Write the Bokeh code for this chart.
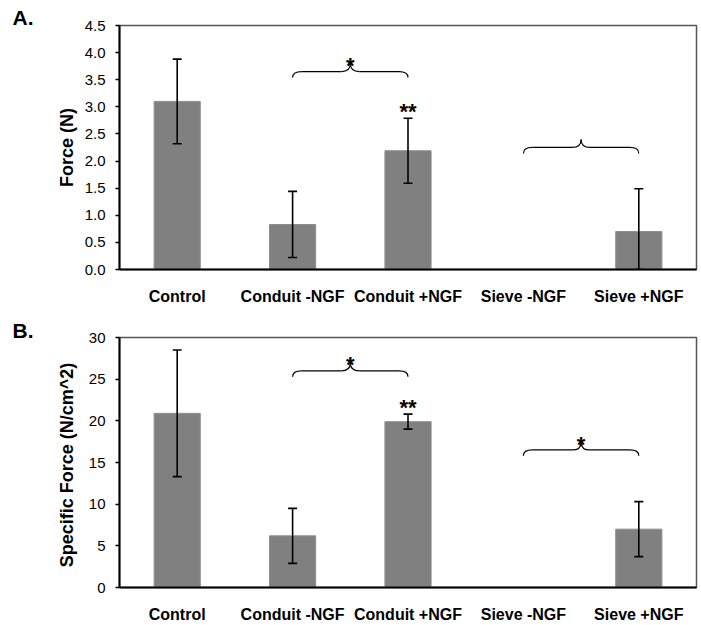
from bokeh.plotting import figure
from bokeh.layouts import column
from bokeh.models import (ColumnDataSource, Range1d, FixedTicker, Whisker, TeeHead,
                          Title, NumeralTickFormatter)
from bokeh.core.properties import value
from bokeh.embed import file_html
from bokeh.resources import INLINE

# ---------------- data ----------------
categories = ["Control", "Conduit -NGF", "Conduit +NGF", "Sieve -NGF", "Sieve +NGF"]

force_mean = [3.10, 0.83, 2.19, 0.0, 0.70]
force_err = [0.78, 0.61, 0.60, 0.0, 0.79]

specific_mean = [20.9, 6.2, 19.9, 0.0, 7.0]
specific_err = [7.6, 3.3, 0.9, 0.0, 3.3]

# significance braces: (from category index, to category index, base y, mark)
force_brace_from = [1, 3]
force_brace_to = [2, 4]
force_brace_base = [3.54, 2.14]
force_brace_mark = ["*", ""]

specific_brace_from = [1, 3]
specific_brace_to = [2, 4]
specific_brace_base = [25.3, 15.8]
specific_brace_mark = ["*", "*"]

# stars above individual bars
force_bar_mark = ["", "", "**", "", ""]
specific_bar_mark = ["", "", "**", "", ""]

force_ticks = [0.0, 0.5, 1.0, 1.5, 2.0, 2.5, 3.0, 3.5, 4.0, 4.5]
specific_ticks = [0, 5, 10, 15, 20, 25, 30]

FONT = value("Liberation Sans")
W = 701


def make_panel(mean, err, ymax, ticks, fmt, ylabel, letter, bfrom, bto, bbase, bmark,
               barmark, height, top, bottom, right, label_standoff, title_standoff):
    n = len(categories)
    p = figure(width=W, height=height, output_backend="svg", toolbar_location=None,
               x_range=Range1d(0, n), y_range=Range1d(0, ymax),
               min_border_left=119, min_border_right=right,
               min_border_top=top, min_border_bottom=bottom)
    p.background_fill_color = "white"
    p.border_fill_color = "white"
    p.outline_line_color = "#555555"
    p.outline_line_width = 1.5
    p.xgrid.visible = False
    p.ygrid.visible = False

    p.title = Title(text=letter, align="left", offset=-107, standoff=title_standoff,
                    text_font="Liberation Sans", text_font_style="bold",
                    text_font_size="21px", text_color="black", text_line_height=1.0)

    xs = [i + 0.5 for i in range(n)]
    src = ColumnDataSource(dict(x=xs, top=mean))
    p.vbar(x="x", top="top", width=0.4, source=src, fill_color="#808080",
           line_color="#8e8e8e", line_width=1)

    wx, wu, wl = [], [], []
    for i in range(n):
        if err[i] > 0:
            wx.append(xs[i])
            wu.append(mean[i] + err[i])
            wl.append(max(0.0, mean[i] - err[i]))
    wsrc = ColumnDataSource(dict(base=wx, upper=wu, lower=wl))
    w = Whisker(base="base", upper="upper", lower="lower", source=wsrc, level="overlay",
                dimension="height", line_color="black", line_width=1.6,
                upper_head=TeeHead(size=9, line_color="black", line_width=1.6),
                lower_head=TeeHead(size=9, line_color="black", line_width=1.6))
    p.add_layout(w)

    # braces
    frame_h = height - top - bottom
    frame_w = W - 119 - right
    upx = ymax / frame_h        # data units per pixel (y)
    xpx = n / frame_w           # data units per pixel (x)
    qx0, qy0, qx1, qy1, qcx, qcy = [], [], [], [], [], []
    sx0, sy0, sx1, sy1 = [], [], [], []
    tx, ty, tt = [], [], []
    for a, b, yb, mk in zip(bfrom, bto, bbase, bmark):
        x0, x1 = a + 0.5, b + 0.5
        xm = (x0 + x1) / 2
        yl = yb + 6 * upx
        yc = yl + 8 * upx
        rx = 9 * xpx
        qx0 += [x0, xm - rx, x1, xm + rx]
        qy0 += [yb, yl, yb, yl]
        qx1 += [x0 + rx, xm, x1 - rx, xm]
        qy1 += [yl, yc, yl, yc]
        qcx += [x0, xm, x1, xm]
        qcy += [yl, yl, yl, yl]
        sx0 += [x0 + rx, xm + rx]
        sx1 += [xm - rx, x1 - rx]
        sy0 += [yl, yl]
        sy1 += [yl, yl]
        if mk:
            tx.append(xm)
            ty.append(yc)
            tt.append(mk)
    p.quadratic(x0=qx0, y0=qy0, x1=qx1, y1=qy1, cx=qcx, cy=qcy,
                line_color="black", line_width=1.2)
    p.segment(x0=sx0, y0=sy0, x1=sx1, y1=sy1, line_color="black", line_width=1.2)
    if tt:
        p.text(x=tx, y=ty, text=tt, text_font=FONT, text_font_style="bold",
               text_font_size="22px", text_align="center", text_baseline="middle",
               y_offset=2, text_color="black")

    bx, by, bt = [], [], []
    for i in range(n):
        if barmark[i]:
            bx.append(xs[i])
            by.append(mean[i] + err[i])
            bt.append(barmark[i])
    p.text(x=bx, y=by, text=bt, text_font=FONT, text_font_style="bold",
           text_font_size="22px", text_align="center", text_baseline="middle",
           y_offset=-7, text_color="black")

    # axes
    xa = p.xaxis[0]
    xa.ticker = FixedTicker(ticks=xs)
    xa.major_label_overrides = {x: c for x, c in zip(xs, categories)}
    xa.major_tick_line_color = None
    xa.minor_tick_line_color = None
    xa.major_label_standoff = 12
    xa.major_label_text_font = "Liberation Sans"
    xa.major_label_text_font_style = "bold"
    xa.major_label_text_font_size = "16px"
    xa.major_label_text_color = "black"
    xa.axis_line_color = "black"
    xa.axis_line_width = 2

    ya = p.yaxis[0]
    ya.ticker = FixedTicker(ticks=ticks)
    ya.formatter = NumeralTickFormatter(format=fmt)
    ya.major_tick_out = 4
    ya.major_tick_in = 0
    ya.major_tick_line_color = "black"
    ya.major_tick_line_width = 1.5
    ya.minor_tick_line_color = None
    ya.major_label_standoff = 10
    ya.major_label_text_font = "Liberation Sans"
    ya.major_label_text_font_size = "15px"
    ya.major_label_text_color = "black"
    ya.axis_line_color = "black"
    ya.axis_line_width = 2
    ya.axis_label = ylabel
    ya.axis_label_text_font = "Liberation Sans"
    ya.axis_label_text_font_style = "bold"
    ya.axis_label_text_font_size = "18px"
    ya.axis_label_text_color = "black"
    ya.axis_label_standoff = label_standoff
    return p


pa = make_panel(force_mean, force_err, 4.5, force_ticks, "0.0", "Force (N)", "A.",
                force_brace_from, force_brace_to, force_brace_base, force_brace_mark,
                force_bar_mark, height=310, top=25, bottom=41, right=5, label_standoff=5,
                title_standoff=-6)
pb = make_panel(specific_mean, specific_err, 30, specific_ticks, "0", "Specific Force  (N/cm^2)",
                "B.", specific_brace_from, specific_brace_to, specific_brace_base,
                specific_brace_mark, specific_bar_mark, height=315, top=27, bottom=32,
                right=3, label_standoff=9, title_standoff=-8)

layout = column(pa, pb, spacing=0)
open("out.html", "w").write(file_html(layout, INLINE))
